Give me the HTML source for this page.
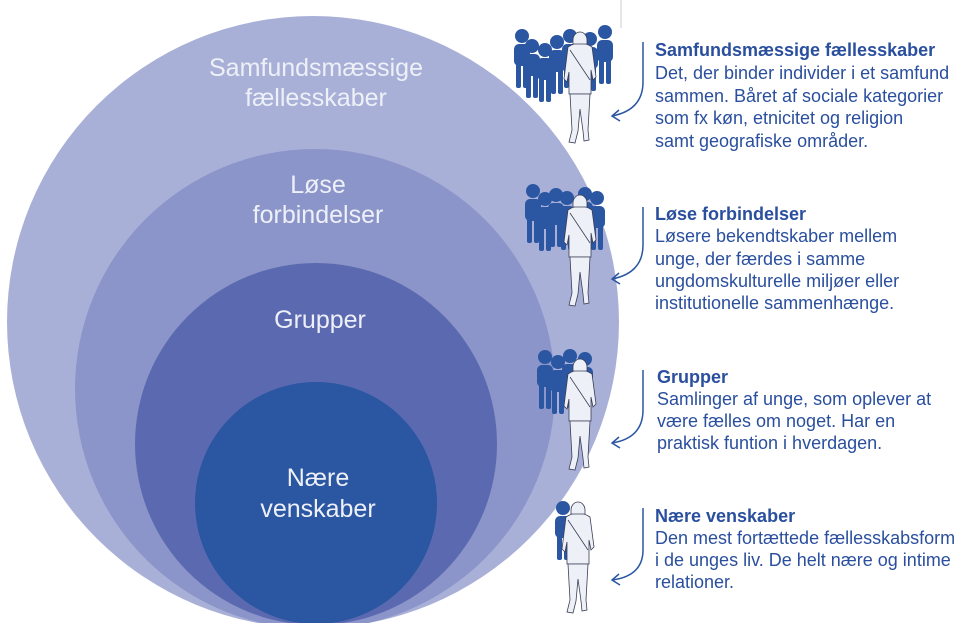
<!DOCTYPE html>
<html><head><meta charset="utf-8"><style>
body{margin:0;background:#fff;}
svg{display:block;font-family:"Liberation Sans",sans-serif;}
</style></head><body>
<svg width="977" height="623" viewBox="0 0 977 623" xmlns="http://www.w3.org/2000/svg">
<defs>
<g id="bp"><circle cx="0" cy="-6" r="7"/><rect x="-8" y="2" width="16" height="22" rx="5"/><rect x="-6" y="14" width="5" height="32" rx="2"/><rect x="1" y="14" width="5" height="32" rx="2"/></g>
<g id="walker" fill="#eef0f8" stroke="#3a3f55" stroke-width="0.8">
<path d="M-12,2 q12,-8 24,0 l4,30 l-3,3 l-2,-10 l0,24 l-22,0 l0,-22 l-2,10 l-3,-3z"/>
<path d="M-7,-5 a7,8 0 1 1 14,0 l0,4 l-14,0z"/>
<path d="M-10,49 l2,36 l-3,12 l6,1 l3,-12 l2,-22 l3,22 l1,10 l5,-1 l-1,-10 l2,-36z"/>
<path d="M-10,5 l20,30" fill="none"/>
</g>
</defs>
<line x1="621" y1="0" x2="621" y2="28" stroke="#ccc" stroke-width="1"/>
<circle cx="313" cy="322" r="306" fill="#a9b0d8"/>
<circle cx="315" cy="389" r="240" fill="#8c95c9"/>
<circle cx="316" cy="444" r="181" fill="#5b6ab0"/>
<circle cx="316" cy="503" r="121" fill="#2a56a2"/>
<g fill="#eef0f8" font-size="25" text-anchor="middle">
<text x="316" y="76">Samfundsmæssige</text><text x="316" y="106">fællesskaber</text>
<text x="318" y="193">Løse</text><text x="318" y="223">forbindelser</text>
<text x="320" y="328">Grupper</text>
<text x="318" y="486">Nære</text><text x="318" y="517">venskaber</text>
</g>
<g fill="#2a56a2">
<use href="#bp" x="522" y="42"/><use href="#bp" x="532" y="52"/><use href="#bp" x="545" y="56"/><use href="#bp" x="557" y="48"/><use href="#bp" x="570" y="42"/><use href="#bp" x="590" y="45"/><use href="#bp" x="605" y="38"/>
<use href="#bp" x="533" y="197"/><use href="#bp" x="545" y="205"/><use href="#bp" x="556" y="201"/><use href="#bp" x="567" y="204"/><use href="#bp" x="585" y="200"/><use href="#bp" x="597" y="204"/>
<use href="#bp" x="545" y="363"/><use href="#bp" x="558" y="368"/><use href="#bp" x="570" y="362"/><use href="#bp" x="585" y="365"/>
<use href="#bp" x="563" y="514"/>
</g>
<use href="#walker" x="580" y="45"/>
<use href="#walker" x="580" y="208"/>
<use href="#walker" x="580" y="372"/>
<use href="#walker" x="578" y="515"/>
<g fill="none" stroke="#2a56a2" stroke-width="1.5">
<path d="M643,42 L643,82 Q643,110 612,116 M619,110 L612,116 L620,121"/>
<path d="M643,207 L643,245 Q643,273 612,279 M619,273 L612,279 L620,284"/>
<path d="M643,370 L643,410 Q643,438 612,443 M619,437 L612,443 L620,448"/>
<path d="M643,508 L643,550 Q643,576 612,580 M619,574 L612,580 L620,585"/>
</g>
<g fill="#2a4f9e" font-size="18">
<text x="655" y="56" font-weight="bold">Samfundsmæssige fællesskaber</text>
<text x="655" y="79">Det, der binder individer i et samfund</text>
<text x="655" y="102">sammen. Båret af sociale kategorier</text>
<text x="655" y="124">som fx køn, etnicitet og religion</text>
<text x="655" y="147">samt geografiske områder.</text>
<text x="655" y="220" font-weight="bold">Løse forbindelser</text>
<text x="655" y="242">Løsere bekendtskaber mellem</text>
<text x="655" y="265">unge, der færdes i samme</text>
<text x="655" y="287">ungdomskulturelle miljøer eller</text>
<text x="655" y="309">institutionelle sammenhænge.</text>
<text x="657" y="383" font-weight="bold">Grupper</text>
<text x="657" y="405">Samlinger af unge, som oplever at</text>
<text x="657" y="427">være fælles om noget. Har en</text>
<text x="657" y="449">praktisk funtion i hverdagen.</text>
<text x="655" y="522" font-weight="bold">Nære venskaber</text>
<text x="655" y="544">Den mest fortættede fællesskabsform</text>
<text x="655" y="566">i de unges liv. De helt nære og intime</text>
<text x="655" y="588">relationer.</text>
</g>
</svg>
</body></html>
